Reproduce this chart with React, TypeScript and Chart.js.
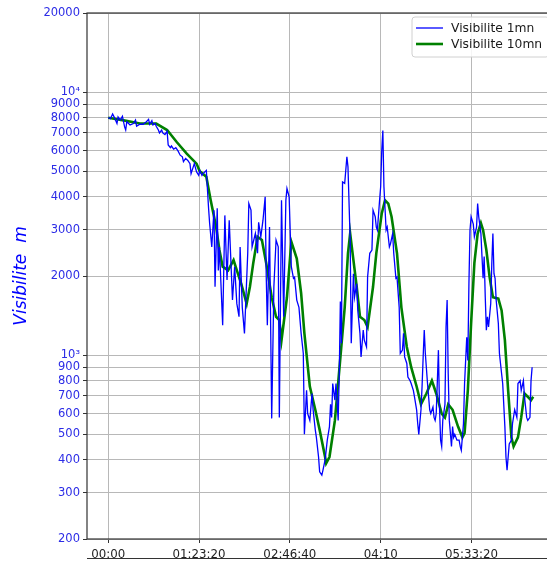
import { useEffect, useRef } from 'react';
import Chart from 'chart.js/auto';

// Time in minutes since 00:00, visibility in metres
const blueMinutes = [
  0, 2, 4, 6, 8, 9, 11, 13, 15, 16,
  17, 20, 23, 25, 26, 29, 32, 35, 37, 38,
  40, 41, 43, 44, 46, 47, 49, 50, 52, 54,
  55, 57, 58, 60, 62, 64, 66, 68, 69, 71,
  73, 75, 76, 78, 79, 81, 83, 84, 86, 87,
  90, 92, 93, 95, 97, 98, 100, 101, 102, 105,
  107, 109, 111, 114, 116, 118, 120, 121, 123, 125,
  126, 128, 129, 131, 132, 135, 137, 138, 140, 142,
  144, 145, 146, 148, 150, 152, 154, 156, 157, 159,
  161, 163, 164, 166, 168, 170, 171, 173, 175, 177,
  179, 180, 182, 183, 185, 187, 188, 190, 191, 193,
  194, 196, 197, 199, 201, 203, 204, 205, 206, 208,
  209, 211, 212, 213, 214, 215, 217, 219, 220, 222,
  223, 225, 226, 228, 229, 231, 232, 234, 235, 237,
  238, 240, 242, 243, 245, 246, 247, 249, 250, 251,
  252, 253, 255, 256, 258, 259, 261, 262, 264, 265,
  267, 268, 270, 271, 272, 274, 275, 277, 278, 280,
  281, 283, 284, 285, 287, 288, 289, 290, 291, 293,
  294, 295, 296, 298, 299, 300, 301, 303, 304, 305,
  306, 307, 309, 310, 311, 312, 313, 315, 316, 317,
  318, 320, 322, 323, 324, 326, 327, 329, 330, 331,
  332, 333, 335, 336, 338, 339, 340, 342, 343, 344,
  345, 346, 347, 348, 349, 351, 352, 353, 354, 355,
  356, 358, 359, 361, 362, 364, 365, 366, 367, 368,
  370, 371, 373, 375, 376, 378, 379, 381, 382, 384,
  385, 387, 388, 389,
];
const blueValues = [
  8000, 7930, 8260, 7950, 7600, 8050, 7830, 8100, 7380, 7180,
  7720, 7500, 7600, 7830, 7420, 7550, 7550, 7720, 7880, 7550,
  7790, 7500, 7600, 7420, 7180, 7000, 7180, 7000, 6900, 7100,
  6300, 6150, 6240, 6070, 6150, 5980, 5760, 5680, 5440, 5600,
  5500, 5350, 4900, 5200, 5350, 4980, 4830, 5040, 4830, 4900,
  5040, 3650, 3180, 2580, 3560, 1820, 3620, 2100, 2580, 1300,
  3400, 1930, 3260, 1620, 2170, 1570, 1400, 2580, 1520, 1210,
  1520, 2440, 3770, 3560, 2580, 2900, 2440, 3200, 2820, 3260,
  4000, 1980, 1300, 3070, 575, 1820, 2740, 2580, 580, 3880,
  1400, 3880, 4300, 4000, 2170, 1960, 1980, 1620, 1520, 1210,
  1015, 500, 735, 600, 565, 715, 620, 520, 487, 410,
  360, 350, 365, 400, 475, 535, 650, 580, 780, 675,
  780, 565, 850, 1600, 1110, 4560, 4500, 5680, 5200, 2740,
  1110, 2040, 1660, 1870, 1480, 1210, 985, 1245, 1140, 1075,
  1980, 2440, 2510, 3560, 3360, 3070, 2990, 3880, 4370, 6000,
  7150, 4370, 2990, 3070, 2580, 2650, 2900, 2440, 1960, 1980,
  1520, 1015, 1045, 1210, 985, 930, 825, 800, 780, 735,
  695, 620, 550, 500, 620, 760, 985, 1245, 1015, 780,
  695, 620, 600, 635, 580, 565, 600, 1045, 635, 475,
  450, 565, 650, 1280, 1620, 850, 565, 450, 535, 487,
  500, 475, 475, 450, 435, 550, 780, 1170, 955, 1870,
  2990, 3360, 3150, 2820, 3070, 3770, 3360, 2900, 2370, 1960,
  2370, 1660, 1245, 1400, 1280, 1570, 2230, 2900, 2040, 1960,
  1620, 1320, 1015, 850, 780, 535, 410, 365, 410, 460,
  475, 550, 620, 580, 780, 800, 735, 800, 695, 580,
  565, 580, 800, 900,
];

const greenMinutes = [
  0, 13, 29, 44, 54, 63, 72, 81, 84, 90,
  94, 99, 102, 105, 110, 115, 118, 122, 127, 130,
  133, 137, 141, 145, 150, 154, 157, 159, 164, 168,
  173, 177, 180, 185, 190, 194, 199, 200, 203, 208,
  212, 217, 220, 222, 225, 228, 231, 235, 238, 243,
  246, 251, 254, 257, 260, 265, 269, 274, 278, 283,
  287, 292, 297, 301, 306, 309, 312, 316, 321, 325,
  327, 330, 333, 336, 339, 342, 344, 347, 350, 353,
  358, 361, 364, 367, 370, 372, 376, 379, 382, 385,
  388, 390,
];
const greenValues = [
  8000, 7830, 7600, 7600, 7180, 6450, 5840, 5350, 5000, 4770,
  3880, 3070, 2510, 2170, 2100, 2300, 2100, 1870, 1570, 1820,
  2230, 2820, 2740, 2230, 1660, 1400, 1360, 1140, 1660, 2700,
  2330, 1720, 1210, 760, 620, 520, 410, 388, 410, 565,
  875, 1520, 2440, 2900, 2300, 1820, 1400, 1360, 1280, 1820,
  2440, 3460, 3880, 3770, 3360, 2440, 1520, 1075, 900, 760,
  650, 715, 800, 715, 600, 580, 650, 620, 535, 487,
  505, 735, 1320, 2240, 2900, 3180, 2990, 2510, 1980, 1660,
  1640, 1480, 1140, 735, 487, 450, 487, 580, 715, 695,
  675, 695,
];

const seriesNames = ['Visibilite 1mn', 'Visibilite 10mn'];
const xTickValues = [0, 5000, 10000, 15000, 20000];
const xTickLabels = ['00:00', '01:23:20', '02:46:40', '04:10', '05:33:20'];
const yTickValues = [200, 300, 400, 500, 600, 700, 800, 900, 1000, 2000, 3000, 4000, 5000, 6000, 7000, 8000, 9000, 10000, 20000];
const yTickLabels = ['200', '300', '400', '500', '600', '700', '800', '900', '10³', '2000', '3000', '4000', '5000', '6000', '7000', '8000', '9000', '10⁴', '20000'];
const yAxisTitle = 'Visibilite  m';

const FONT = "'DejaVu Sans', sans-serif";
const BLUE = '#0000ff';
const GREEN = '#008000';
const TICK_BLUE = '#2c2ce6';

const framePlugin = {
  id: 'frame',
  afterDatasetsDraw(chart: any) {
    const { ctx, chartArea } = chart;
    const { left, top, right, bottom } = chartArea;
    ctx.save();
    ctx.strokeStyle = '#333333';
    ctx.lineWidth = 1.2;
    ctx.strokeRect(left, top, right - left, bottom - top);
    ctx.restore();
  },
};

const legendPlugin = {
  id: 'insideLegend',
  afterDraw(chart: any) {
    const { ctx, chartArea } = chart;
    const bx = chartArea.right - 143;
    const by = chartArea.top + 4;
    const bw = 137;
    const bh = 40;
    ctx.save();
    ctx.beginPath();
    const r = 3;
    ctx.moveTo(bx + r, by);
    ctx.lineTo(bx + bw - r, by);
    ctx.quadraticCurveTo(bx + bw, by, bx + bw, by + r);
    ctx.lineTo(bx + bw, by + bh - r);
    ctx.quadraticCurveTo(bx + bw, by + bh, bx + bw - r, by + bh);
    ctx.lineTo(bx + r, by + bh);
    ctx.quadraticCurveTo(bx, by + bh, bx, by + bh - r);
    ctx.lineTo(bx, by + r);
    ctx.quadraticCurveTo(bx, by, bx + r, by);
    ctx.closePath();
    ctx.fillStyle = 'rgba(255,255,255,0.85)';
    ctx.fill();
    ctx.strokeStyle = '#d0d0d0';
    ctx.lineWidth = 1;
    ctx.stroke();
    const rows = [
      { label: seriesNames[0], color: BLUE, width: 1.3, y: by + 11 },
      { label: seriesNames[1], color: GREEN, width: 2.6, y: by + 27 },
    ];
    ctx.font = `12.3px ${FONT}`;
    ctx.textBaseline = 'middle';
    ctx.textAlign = 'left';
    rows.forEach((row) => {
      ctx.beginPath();
      ctx.strokeStyle = row.color;
      ctx.lineWidth = row.width;
      ctx.moveTo(bx + 4, row.y);
      ctx.lineTo(bx + 31, row.y);
      ctx.stroke();
      ctx.fillStyle = '#1a1a1a';
      ctx.fillText(row.label, bx + 39, row.y + 0.5);
    });
    ctx.restore();
  },
};

function fmtTime(v: number) {
  const i = xTickValues.indexOf(Math.round(v));
  return i >= 0 ? xTickLabels[i] : '';
}

export default function App() {
  const ref = useRef<HTMLCanvasElement | null>(null);

  useEffect(() => {
    if (!ref.current) return;
    const blueData = blueMinutes.map((m, i) => ({ x: m * 60, y: blueValues[i] }));
    const greenData = greenMinutes.map((m, i) => ({ x: m * 60, y: greenValues[i] }));
    const chart = new Chart(ref.current, {
      type: 'line',
      data: {
        datasets: [
          {
            label: seriesNames[0],
            data: blueData,
            borderColor: BLUE,
            borderWidth: 1.3,
            pointRadius: 0,
            tension: 0,
            fill: false,
          },
          {
            label: seriesNames[1],
            data: greenData,
            borderColor: GREEN,
            borderWidth: 2.6,
            pointRadius: 0,
            tension: 0,
            fill: false,
          },
        ],
      },
      options: {
        responsive: false,
        animation: false,
        events: [],
        layout: { padding: { left: 0, top: 13, right: 15, bottom: 0 } },
        plugins: { legend: { display: false }, tooltip: { enabled: false } },
        scales: {
          x: {
            type: 'linear',
            min: -1171,
            max: 24600,
            afterBuildTicks: (scale: any) => {
              scale.ticks = xTickValues.map((v) => ({ value: v }));
            },
            afterFit: (scale: any) => {
              scale.height = 22;
            },
            grid: {
              color: '#b8b8b8',
              lineWidth: 1,
              drawTicks: true,
              tickLength: 4,
              tickColor: '#333333',
            },
            border: { display: false },
            ticks: {
              autoSkip: false,
              maxRotation: 0,
              padding: 5,
              color: '#222222',
              font: { family: FONT, size: 11.8 },
              callback: (v: any) => fmtTime(Number(v)),
            },
          },
          y: {
            type: 'logarithmic',
            min: 200,
            max: 20000,
            afterBuildTicks: (scale: any) => {
              scale.ticks = yTickValues.map((v) => ({ value: v }));
            },
            afterFit: (scale: any) => {
              scale.width = 87;
            },
            grid: {
              color: '#b8b8b8',
              lineWidth: 1,
              drawTicks: true,
              tickLength: 4,
              tickColor: '#333333',
            },
            border: { display: false },
            ticks: {
              autoSkip: false,
              padding: 3,
              color: TICK_BLUE,
              font: { family: FONT, size: 11.5 },
              callback: (v: any) => {
                const i = yTickValues.indexOf(Math.round(Number(v)));
                return i >= 0 ? yTickLabels[i] : '';
              },
            },
            title: {
              display: true,
              text: yAxisTitle,
              color: BLUE,
              font: { family: FONT, size: 17, style: 'italic' },
              padding: { top: 11, bottom: 0 },
            },
          },
        },
      },
      plugins: [framePlugin, legendPlugin],
    } as any);
    return () => chart.destroy();
  }, []);

  return (
    <div style={{ position: 'absolute', left: 0, top: 0, width: 547, height: 561, overflow: 'hidden', background: '#ffffff' }}>
      <canvas ref={ref} width={570} height={561} style={{ display: 'block', width: 570, height: 561 }} />
      <div style={{ position: 'absolute', left: 87, top: 558, width: 480, height: 10, borderTop: '1.5px solid #333333', background: '#ffffff' }} />
    </div>
  );
}
